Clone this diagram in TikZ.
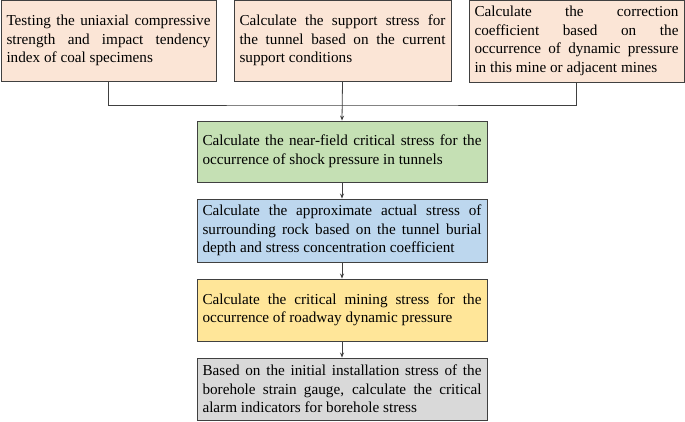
\documentclass[tikz,border=0pt]{standalone}
\usepackage{fontspec}
\setmainfont{Liberation Serif}
\usetikzlibrary{arrows.meta}
\hyphenpenalty=10000
\exhyphenpenalty=10000
\tolerance=10000
\definecolor{peach}{HTML}{FBE5D6}
\definecolor{lgreen}{HTML}{C5E0B4}
\definecolor{lblue}{HTML}{BDD7EE}
\definecolor{lyellow}{HTML}{FFE699}
\definecolor{lgray}{HTML}{D9D9D9}
\definecolor{edge}{HTML}{404040}
\begin{document}
\begin{tikzpicture}[x=1pt,y=-1pt,
  boxbase/.style={draw=edge, line width=0.9pt, inner xsep=5.5pt, inner ysep=0pt, align=justify,
    font=\fontsize{15.2pt}{18.5pt}\selectfont},
  topbox/.style={boxbase, fill=peach, minimum height=81pt},
  midbox/.style={boxbase, minimum width=290pt, text width=279pt},
  conn/.style={draw=edge, line width=0.8pt},
  arr/.style={conn, -{Stealth[length=5pt,width=4pt]}}]
\useasboundingbox (0,0) rectangle (685,421);
\node[topbox, minimum width=215pt, text width=204pt] (b1) at (108.5,40.5)
  {Testing the uniaxial compressive strength and impact tendency index of coal specimens};
\node[topbox, minimum width=217pt, text width=206pt] (b2) at (342.5,40.5)
  {Calculate the support stress for the tunnel based on the current support conditions};
\node[topbox, minimum width=215pt, text width=204pt, minimum height=82pt] (b3) at (576.5,41)
  {Calculate the correction coefficient based on the occurrence of dynamic pressure in this mine or adjacent mines};
\node[midbox, fill=lgreen, minimum height=61pt] (g) at (342,151.5)
  {Calculate the near-field critical stress for the occurrence of shock pressure in tunnels};
\node[midbox, fill=lblue, minimum height=63pt] (bl) at (342,230.5)
  {Calculate the approximate actual stress of surrounding rock based on the tunnel burial depth and stress concentration coefficient};
\node[midbox, fill=lyellow, minimum height=62pt] (ye) at (342,310)
  {Calculate the critical mining stress for the occurrence of roadway dynamic pressure};
\node[midbox, fill=lgray, minimum height=62pt] (gr) at (342,389)
  {Based on the initial installation stress of the borehole strain gauge, calculate the critical alarm indicators for borehole stress};
\coordinate (j) at (342.5,105);
\draw[conn] (b1.south) |- (j) -| (b3.south);
\draw[arr] (b2.south) -- (g.north);
\draw[arr] (g.south) -- (bl.north);
\draw[arr] (bl.south) -- (ye.north);
\draw[arr] (ye.south) -- (gr.north);
\end{tikzpicture}
\end{document}
